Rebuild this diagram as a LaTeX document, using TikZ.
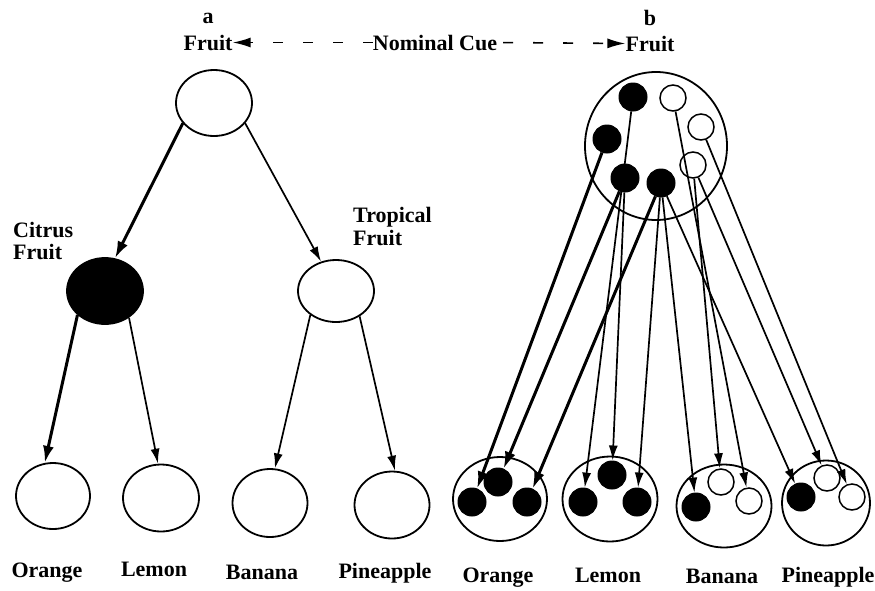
\documentclass[tikz,border=0pt]{standalone}
\usepackage{fontspec}
\setmainfont{Liberation Serif}
\usetikzlibrary{shapes.geometric,arrows.meta}
\begin{document}
\begin{tikzpicture}[x=1pt,y=-1pt,
  lbl/.style={font=\fontsize{22}{24}\selectfont\bfseries, inner sep=0pt},
  bigell/.style={draw, ellipse, line width=1.8pt, inner sep=0pt},
  unitf/.style={circle, draw, fill=black, line width=1pt, minimum size=28pt, inner sep=0pt},
  unito/.style={circle, draw, fill=white, line width=1.5pt, minimum size=26pt, inner sep=0pt},
  lnk/.style={line width=1.7pt, -{Latex[length=15pt,width=9pt]}},
  lnkb/.style={line width=3pt, -{Latex[length=17pt,width=11pt]}},
  cue/.style={line width=1.6pt, dash pattern=on 10pt off 20pt, -{Latex[length=18pt,width=10pt]}}
]
\useasboundingbox (0,0) rectangle (875,590);
\fill[white] (0,0) rectangle (875,590);

% ---------- top labels ----------
\node[lbl, anchor=base] (la) at (208,23) {a};
\node[lbl, anchor=base] (lb) at (650,25) {b};
\node[lbl, anchor=base] (fl) at (208,50) {Fruit};
\node[lbl, anchor=base] (nom) at (435,50) {Nominal Cue};
\node[lbl, anchor=base] (fr) at (650,51) {Fruit};
\draw[cue] (nom.west) -- (fl.east);
\draw[cue, dash phase=24pt] (nom.east) -- (fr.west);

% ---------- panel a ----------
\node[bigell, minimum width=76pt, minimum height=66pt] (root) at (214,103) {};
\node[bigell, fill=black, minimum width=76pt, minimum height=66pt] (cit) at (105,291) {};
\node[bigell, minimum width=76pt, minimum height=62pt] (tro) at (336,291) {};
\node[bigell, minimum width=74pt, minimum height=66pt] (lor) at (53,496) {};
\node[bigell, minimum width=76pt, minimum height=67pt] (lle) at (161,498) {};
\node[bigell, minimum width=75pt, minimum height=68pt] (lba) at (270,503) {};
\node[bigell, minimum width=75pt, minimum height=67pt] (lpi) at (392,505) {};

\node[lbl, anchor=base west] (cit1) at (13,237) {Citrus};
\node[lbl, anchor=base west] (cit2) at (13,259) {Fruit};
\node[lbl, anchor=base west] (tro1) at (353,222) {Tropical};
\node[lbl, anchor=base west] (tro2) at (353,245) {Fruit};

\draw[lnkb] (root.213) -- (cit.73);
\draw[lnk]  (root.327) -- (tro.117);
\draw[lnkb] (cit.221) -- (lor.104);
\draw[lnk]  (cit.312) -- (lle.95);
\draw[lnk]  (tro.223) -- (lba.82);
\draw[lnk]  (tro.313) -- (lpi.85);

\node[lbl, anchor=base] (tor) at (47,577) {Orange};
\node[lbl, anchor=base] (tle) at (154,576) {Lemon};
\node[lbl, anchor=base] (tba) at (262,579) {Banana};
\node[lbl, anchor=base] (tpi) at (385,578) {Pineapple};

% ---------- panel b ----------
\node[bigell, minimum width=142pt, minimum height=148pt] (grp) at (656,146) {};
\node[bigell, minimum width=94pt, minimum height=84pt] (go) at (500,499) {};
\node[bigell, minimum width=95pt, minimum height=85pt] (gl) at (610,499) {};
\node[bigell, minimum width=95pt, minimum height=83pt] (gb) at (724,506) {};
\node[bigell, minimum width=88pt, minimum height=85pt] (gp) at (826,503) {};

\node[unitf] (A) at (633,97) {};
\node[unito] (B) at (673,98) {};
\node[unitf] (C) at (607,139) {};
\node[unito] (D) at (701,127) {};
\node[unito] (E) at (693,165) {};
\node[unitf] (F) at (625,178) {};
\node[unitf] (G) at (661,183) {};

\node[unitf] (o1) at (472,502) {};
\node[unitf] (o2) at (498,482) {};
\node[unitf] (o3) at (527,502) {};
\node[unitf] (l1) at (583,502) {};
\node[unitf] (l2) at (612,475) {};
\node[unitf] (l3) at (637,502) {};
\node[unitf] (b1) at (696,507) {};
\node[unito] (b2) at (721,482) {};
\node[unito] (b3) at (749,501) {};
\node[unitf] (p1) at (801,497) {};
\node[unito] (p2) at (827,478) {};
\node[unito] (p3) at (852,497) {};

\draw[lnkb] (C) -- (o1);
\draw[lnkb] (F) -- (o2);
\draw[lnkb] (G) -- (o3);
\draw[lnk] (A) -- (l1);
\draw[lnk] (F) -- (l2);
\draw[lnk] (G) -- (l3);
\draw[lnk] (G) -- (b1);
\draw[lnk] (E) -- (b2);
\draw[lnk] (B) -- (b3);
\draw[lnk] (G) -- (p1);
\draw[lnk] (E) -- (p2);
\draw[lnk] (D) -- (p3);

\node[lbl, anchor=base] (ror) at (498,582) {Orange};
\node[lbl, anchor=base] (rle) at (608,582) {Lemon};
\node[lbl, anchor=base] (rba) at (722,583) {Banana};
\node[lbl, anchor=base] (rpi) at (828,582) {Pineapple};
\end{tikzpicture}
\end{document}
